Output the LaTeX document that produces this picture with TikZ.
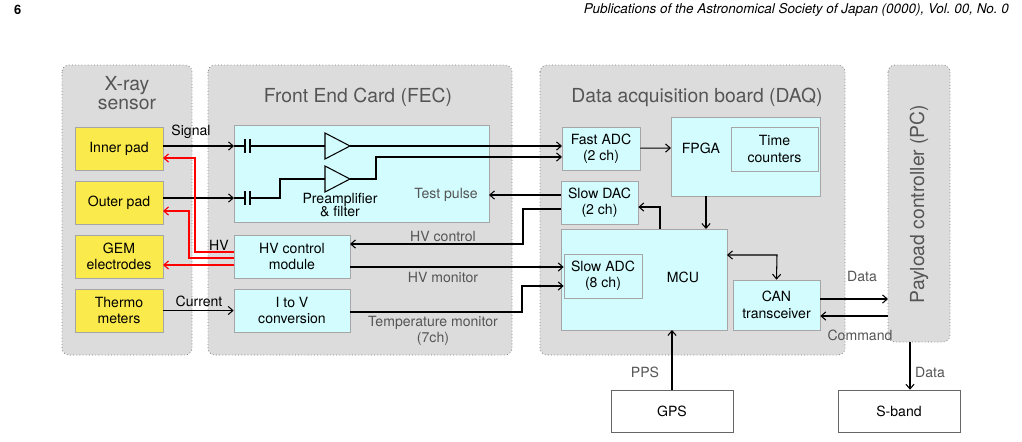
\documentclass[tikz,border=0pt]{standalone}
\usepackage{fontspec}
\setmainfont{TeX Gyre Heros}
\usetikzlibrary{arrows.meta}
\definecolor{grp}{HTML}{DCDCDC}
\definecolor{cy}{HTML}{D2FCFD}
\definecolor{yl}{HTML}{FBEA4C}
\definecolor{tx}{HTML}{555555}
\begin{document}
\begin{tikzpicture}[x=0.03cm,y=-0.03cm,
  grp/.style={fill=grp,draw=gray,dotted,line width=0.7pt,rounded corners=6pt},
  cb/.style={fill=cy,draw=gray!70,line width=0.6pt,align=center,font=\fontsize{12}{14}\selectfont},
  yb/.style={fill=yl,draw=gray!70,line width=0.6pt,align=center,font=\fontsize{12}{14}\selectfont},
  ttl/.style={text=tx,font=\fontsize{16.5}{18}\selectfont,align=center},
  lb/.style={font=\fontsize{12}{14}\selectfont},
  glb/.style={text=tx,font=\fontsize{12}{14}\selectfont,align=center},
  w/.style={line width=0.9pt,-{Straight Barb[length=4pt,width=7pt]}},
  wl/.style={line width=0.9pt},
  rw/.style={red,line width=1pt,-{Straight Barb[length=4pt,width=7pt]}}]
\useasboundingbox (0,0) rectangle (1022,442);
\node[anchor=west,font=\bfseries\fontsize{11}{12}\selectfont] at (10,10) {6};
\node[anchor=east,font=\itshape\fontsize{11.5}{12}\selectfont] at (1013,10) {Publications of the Astronomical Society of Japan (0000), Vol.\ 00, No.\ 0};
% groups
\draw[grp] (62,65) rectangle (192,355);
\draw[grp] (208,65) rectangle (512,355);
\draw[grp] (540,65) rectangle (845,355);
\draw[grp] (888,65) rectangle (950,342);
\node[ttl] (t1) at (127,93) {X-ray\\[-2pt]sensor};
\node[ttl] (t2) at (358,97) {Front End Card (FEC)};
\node[ttl] (t3) at (697,97) {Data acquisition board (DAQ)};
\node[ttl,rotate=90] (t4) at (919,204) {Payload controller (PC)};
% yellow
\node[yb,minimum width=2.64cm,minimum height=1.29cm] (ip) at (119,148.5) {Inner pad};
\node[yb,minimum width=2.64cm,minimum height=1.29cm] (op) at (119,202.5) {Outer pad};
\node[yb,minimum width=2.64cm,minimum height=1.29cm] (gem) at (119,256.5) {GEM\\electrodes};
\node[yb,minimum width=2.64cm,minimum height=1.29cm] (th) at (119,310.5) {Thermo\\meters};
% FEC
\draw[fill=cy,draw=gray!70,line width=0.6pt] (234,125) rectangle (489,222);
\coordinate (fec) at (361,173);
\node[cb,minimum width=3.48cm,minimum height=1.29cm] (hv) at (292,256.5) {HV control\\module};
\node[cb,minimum width=3.48cm,minimum height=1.29cm] (iv) at (292,310.5) {I to V\\conversion};
% DAQ
\node[cb,minimum width=2.34cm,minimum height=1.29cm] (fadc) at (601,148.5) {Fast ADC\\(2 ch)};
\node[cb,minimum width=2.31cm,minimum height=1.29cm] (sdac) at (599.5,202.5) {Slow DAC\\(2 ch)};
\draw[fill=cy,draw=gray!70,line width=0.6pt] (671,117) rectangle (820,196);
\node[lb] (fpga) at (701,148) {FPGA};
\node[cb,minimum width=2.61cm,minimum height=1.32cm] (tc) at (774.5,149) {Time\\counters};
\draw[fill=cy,draw=gray!70,line width=0.6pt] (561,229) rectangle (727,330);
\node[lb] (mcu) at (683,277) {MCU};
\node[cb,minimum width=2.34cm,minimum height=1.32cm] (sadc) at (603,276) {Slow ADC\\(8 ch)};
\node[cb,minimum width=2.61cm,minimum height=1.5cm] (can) at (776.5,305) {CAN\\transceiver};
\node[draw=black!60,line width=0.6pt,minimum width=3.66cm,minimum height=1.26cm,lb] (gps) at (672,411) {GPS};
\node[draw=black!60,line width=0.6pt,minimum width=3.66cm,minimum height=1.26cm,lb] (sb) at (899,411) {S-band};
% FEC internals
\draw[w] (163,146) -- (234,146);
\draw[w] (163,198) -- (234,198);
\draw[wl] (234,146) -- (245,146) (245,139)--(245,153) (250,139)--(250,153) (250,146)--(325,146);
\draw[wl] (234,198) -- (245,198) (245,191)--(245,205) (250,191)--(250,205) (250,198)--(280,198)--(280,179)--(325,179);
\draw[wl,fill=cy] (325,133)--(350,146)--(325,159)--cycle;
\draw[wl,fill=cy] (325,166)--(350,179)--(325,192)--cycle;
\draw[w] (350,146) -- (562,146);
\draw[w] (350,179) -- (376,179) -- (376,157) -- (562,157);
\node[lb,align=center] at (340,205) {Preamplifier\\[-3pt]\& filter};
\node[glb] at (446,195) {Test pulse};
\node[lb] at (191,132) {Signal};
\node[lb] at (199,301) {Current};
\node[lb] at (219,245) {HV};
% connections
\draw[w] (sdac.west|-0,195) -- (489,195);
\draw[w] (th) -- (iv);
\draw[w] (sdac.west|-0,209) -- (523,209) -- (523,244) -- (350,244);
\draw[w] (350,267) -- (sadc.west|-0,267);
\draw[w] (350,312) -- (522,312) -- (522,286) -- (sadc.west|-0,286);
\node[glb] at (443,236) {HV control};
\node[glb] at (443,277) {HV monitor};
\node[glb] at (433,331) {Temperature monitor\\(7ch)};
\draw[w] (fadc) -- (671,148);
\draw[w] (706,196) -- (706,229);
\draw[w] (660,229) -- (660,207) -- (sdac.east|-0,207);
\draw[line width=0.9pt,{Straight Barb[length=4pt,width=7pt]}-{Straight Barb[length=4pt,width=7pt]}] (727,255) -- (777,255) -- (can.north);
\draw[w] (can.east|-0,299) -- (888,299);
\draw[w] (888,316) -- (can.east|-0,316);
\node[glb] at (862,276) {Data};
\node[glb] at (860,335) {Command};
\draw[w] (910,342) -- (sb.north-|910,0);
\node[glb] at (930,372) {Data};
\draw[w] (gps.north) -- (672,330);
\node[glb] at (645,372) {PPS};
% red HV
\draw[rw] (hv.west|-0,252) -- (195,252) -- (195,158) -- (163,158);
\draw[rw] (hv.west|-0,258) -- (189,258) -- (189,211) -- (163,211);
\draw[rw] (hv.west|-0,265) -- (163,265);
\end{tikzpicture}
\end{document}
